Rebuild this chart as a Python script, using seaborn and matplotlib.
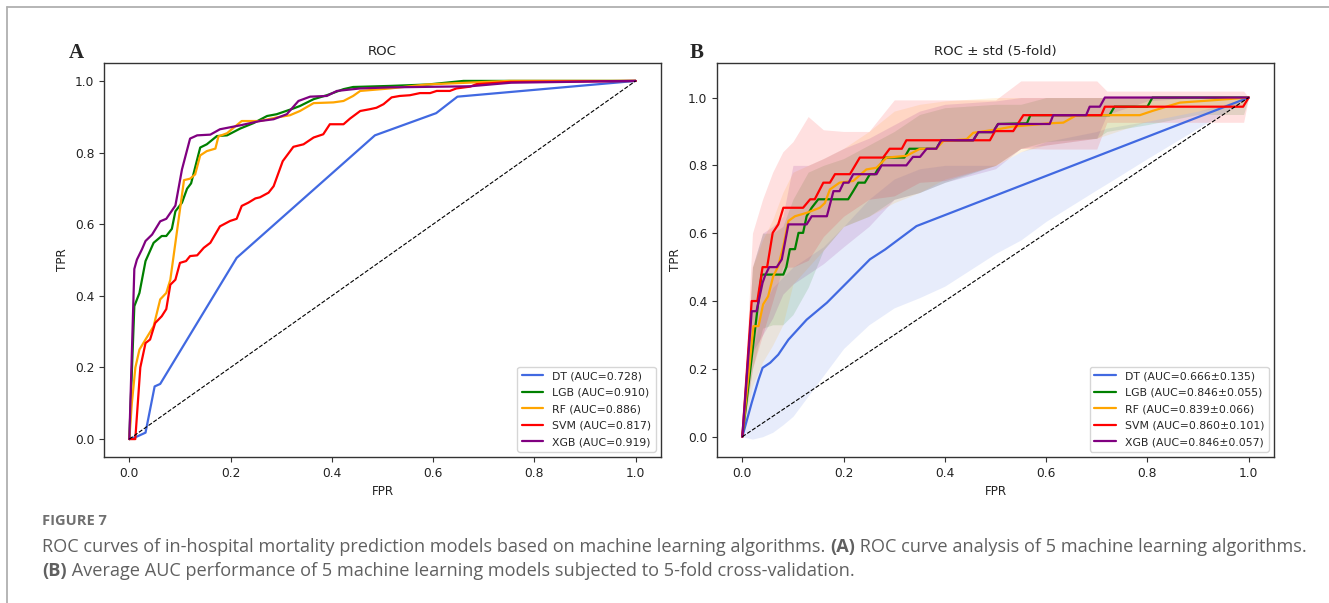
import numpy as np
import pandas as pd
import matplotlib
matplotlib.use("Agg")
import matplotlib.pyplot as plt
from matplotlib.lines import Line2D
import seaborn as sns

# ---------------- data ----------------
models = ["DT", "LGB", "RF", "SVM", "XGB"]
colors = ["royalblue", "green", "orange", "red", "purple"]
auc_a = ["0.728", "0.910", "0.886", "0.817", "0.919"]
auc_b = ["0.666\u00b10.135", "0.846\u00b10.055", "0.839\u00b10.066", "0.860\u00b10.101", "0.846\u00b10.057"]

# Panel A: ROC curves
dt_a_fpr = [0, 0.015, 0.032, 0.05, 0.061, 0.212, 0.485, 0.606, 0.648, 1.0]
dt_a_tpr = [0, 0.007, 0.018, 0.147, 0.154, 0.506, 0.848, 0.91, 0.956, 1.0]
lgb_a_fpr = [0, 0.0099, 0.02, 0.032, 0.048, 0.064, 0.073, 0.084, 0.091, 0.104,
             0.114, 0.122, 0.14, 0.153, 0.173, 0.193, 0.219, 0.245, 0.272, 0.291,
             0.324, 0.337, 0.364, 0.39, 0.423, 0.442, 0.515, 0.59, 0.66, 1.0]
lgb_a_tpr = [0, 0.371, 0.408, 0.497, 0.548, 0.567, 0.567, 0.587, 0.636, 0.66,
             0.699, 0.714, 0.814, 0.823, 0.846, 0.848, 0.867, 0.882, 0.902, 0.907,
             0.923, 0.93, 0.949, 0.96, 0.977, 0.983, 0.986, 0.99, 1.0, 1.0]
rf_a_fpr = [0, 0.005, 0.012, 0.02, 0.032, 0.048, 0.061, 0.073, 0.081, 0.108,
            0.12, 0.13, 0.14, 0.153, 0.17, 0.176, 0.193, 0.222, 0.258, 0.291,
            0.317, 0.337, 0.364, 0.403, 0.423, 0.442, 0.456, 0.515, 0.587, 0.75, 1.0]
rf_a_tpr = [0, 0.1, 0.2, 0.25, 0.278, 0.315, 0.39, 0.408, 0.445, 0.723,
            0.727, 0.739, 0.792, 0.804, 0.811, 0.845, 0.854, 0.888, 0.888, 0.898,
            0.904, 0.916, 0.938, 0.94, 0.944, 0.958, 0.972, 0.979, 0.99, 1.0, 1.0]
svm_a_fpr = [0, 0.0118, 0.0217, 0.032, 0.041, 0.051, 0.064, 0.073, 0.081, 0.091,
             0.1, 0.112, 0.12, 0.134, 0.147, 0.16, 0.179, 0.199, 0.212, 0.222,
             0.235, 0.249, 0.258, 0.275, 0.285, 0.303, 0.324, 0.344, 0.364, 0.383,
             0.396, 0.423, 0.436, 0.456, 0.475, 0.488, 0.502, 0.518, 0.534, 0.554,
             0.574, 0.594, 0.607, 0.633, 0.646, 0.673, 0.686, 0.751, 1.0]
svm_a_tpr = [0, 0, 0.2, 0.268, 0.278, 0.324, 0.343, 0.363, 0.431, 0.445,
             0.492, 0.497, 0.511, 0.513, 0.534, 0.548, 0.594, 0.609, 0.615, 0.651,
             0.66, 0.672, 0.675, 0.688, 0.706, 0.776, 0.816, 0.823, 0.842, 0.851,
             0.879, 0.879, 0.895, 0.916, 0.921, 0.925, 0.935, 0.954, 0.958, 0.96,
             0.966, 0.966, 0.972, 0.972, 0.979, 0.984, 0.991, 0.997, 1.0]
xgb_a_fpr = [0, 0.0099, 0.015, 0.025, 0.032, 0.045, 0.061, 0.073, 0.091, 0.104,
             0.12, 0.134, 0.16, 0.179, 0.219, 0.258, 0.285, 0.311, 0.334, 0.357,
             0.39, 0.41, 0.456, 0.515, 0.673, 0.754, 1.0]
xgb_a_tpr = [0, 0.475, 0.501, 0.53, 0.553, 0.571, 0.608, 0.615, 0.652, 0.753,
             0.839, 0.848, 0.85, 0.865, 0.876, 0.888, 0.893, 0.907, 0.944, 0.956,
             0.958, 0.972, 0.979, 0.982, 0.985, 0.995, 1.0]

# Panel B: mean ROC (5-fold)
dt_b_fpr = [0, 0.0185, 0.032, 0.04, 0.055, 0.071, 0.091, 0.127, 0.167, 0.213, 0.252, 0.282, 0.344, 1.0]
dt_b_tpr = [0, 0.1, 0.168, 0.203, 0.218, 0.242, 0.286, 0.345, 0.395, 0.464, 0.523, 0.552, 0.621, 1.0]
lgb_b_fpr = [0, 0.038, 0.081, 0.087, 0.094, 0.104, 0.111, 0.12, 0.127, 0.137,
             0.15, 0.209, 0.219, 0.229, 0.242, 0.252, 0.262, 0.281, 0.32, 0.33,
             0.383, 0.393, 0.456, 0.466, 0.495, 0.505, 0.562, 0.569, 0.725, 0.735,
             0.80, 0.81, 1.0]
lgb_b_tpr = [0, 0.478, 0.478, 0.5, 0.553, 0.553, 0.601, 0.601, 0.65, 0.675,
             0.7, 0.7, 0.724, 0.749, 0.749, 0.774, 0.774, 0.823, 0.823, 0.849,
             0.849, 0.874, 0.874, 0.898, 0.898, 0.922, 0.924, 0.948, 0.948, 0.973,
             0.973, 1.0, 1.0]
rf_b_fpr = [0, 0.022, 0.032, 0.041, 0.051, 0.061, 0.071, 0.081, 0.091, 0.104,
            0.127, 0.153, 0.163, 0.173, 0.192, 0.219, 0.245, 0.265, 0.285, 0.324,
            0.351, 0.383, 0.397, 0.443, 0.456, 0.503, 0.532, 0.607, 0.634, 0.66,
            0.785, 0.811, 0.864, 0.93, 1.0]
rf_b_tpr = [0, 0.326, 0.326, 0.39, 0.414, 0.473, 0.503, 0.562, 0.636, 0.65,
            0.66, 0.675, 0.689, 0.729, 0.749, 0.754, 0.788, 0.793, 0.823, 0.828,
            0.849, 0.849, 0.872, 0.877, 0.896, 0.906, 0.914, 0.924, 0.926, 0.948,
            0.948, 0.961, 0.985, 0.992, 1.0]
svm_b_fpr = [0, 0.0185, 0.0297, 0.04, 0.049, 0.06, 0.071, 0.081, 0.12, 0.134,
             0.143, 0.16, 0.173, 0.183, 0.2125, 0.232, 0.278, 0.291, 0.315, 0.324,
             0.489, 0.499, 0.535, 0.555, 0.709, 0.716, 0.989, 1.0]
svm_b_tpr = [0, 0.4, 0.4, 0.5, 0.5, 0.601, 0.626, 0.675, 0.675, 0.7,
             0.7, 0.749, 0.749, 0.774, 0.774, 0.823, 0.823, 0.849, 0.849, 0.874,
             0.874, 0.901, 0.901, 0.948, 0.948, 0.973, 0.973, 1.0]
xgb_b_fpr = [0, 0.0185, 0.028, 0.04, 0.045, 0.053, 0.068, 0.078, 0.091, 0.127,
             0.137, 0.167, 0.18, 0.192, 0.2, 0.21, 0.219, 0.265, 0.275, 0.324,
             0.337, 0.351, 0.364, 0.383, 0.393, 0.456, 0.466, 0.495, 0.505, 0.607,
             0.614, 0.679, 0.686, 0.706, 0.716, 1.0]
xgb_b_tpr = [0, 0.37, 0.37, 0.454, 0.475, 0.5, 0.5, 0.523, 0.626, 0.626,
             0.65, 0.65, 0.724, 0.724, 0.749, 0.749, 0.774, 0.774, 0.8, 0.8,
             0.825, 0.825, 0.849, 0.849, 0.874, 0.874, 0.898, 0.898, 0.922, 0.922,
             0.948, 0.948, 0.973, 0.973, 1.0, 1.0]

# Panel B: +/- std bands
band_fpr = [0, 0.02, 0.04, 0.06, 0.08, 0.10, 0.13, 0.16, 0.20, 0.25, 0.30,
            0.35, 0.40, 0.50, 0.55, 0.60, 0.70, 0.72, 0.80, 0.90, 0.99, 1.0]
dt_lo = [0, -0.007, 0.0, 0.013, 0.035, 0.06, 0.12, 0.18, 0.26, 0.33, 0.38,
         0.41, 0.444, 0.54, 0.58, 0.635, 0.728, 0.746, 0.82, 0.91, 0.99, 1.0]
dt_hi = [0, 0.25, 0.38, 0.44, 0.47, 0.5, 0.53, 0.56, 0.62, 0.7, 0.76,
         0.79, 0.8, 0.8, 0.84, 0.87, 0.9, 0.91, 0.93, 0.96, 0.995, 1.0]
lgb_lo = [0, 0.2, 0.32, 0.33, 0.33, 0.36, 0.44, 0.55, 0.62, 0.65, 0.7,
          0.72, 0.75, 0.8, 0.85, 0.87, 0.88, 0.9, 0.92, 0.95, 0.95, 1.0]
lgb_hi = [0, 0.5, 0.6, 0.6, 0.62, 0.7, 0.78, 0.8, 0.82, 0.86, 0.9,
          0.95, 0.97, 0.98, 0.98, 1.0, 1.0, 1.0, 1.0, 1.0, 1.0, 1.0]
rf_lo = [0, 0.15, 0.22, 0.27, 0.33, 0.45, 0.5, 0.55, 0.62, 0.65, 0.69,
         0.72, 0.76, 0.8, 0.84, 0.86, 0.88, 0.89, 0.93, 0.96, 0.98, 1.0]
rf_hi = [0, 0.5, 0.58, 0.64, 0.72, 0.78, 0.8, 0.82, 0.85, 0.9, 0.96,
         0.98, 0.99, 1.0, 1.0, 1.0, 1.0, 1.0, 1.0, 1.0, 1.0, 1.0]
svm_lo = [0, 0.2, 0.3, 0.4, 0.5, 0.5, 0.52, 0.59, 0.65, 0.7, 0.71,
          0.75, 0.755, 0.8, 0.85, 0.848, 0.848, 0.927, 0.927, 0.927, 0.927, 1.0]
svm_hi = [0, 0.6, 0.7, 0.78, 0.84, 0.87, 0.944, 0.905, 0.9, 0.9, 0.993,
          0.993, 0.993, 0.993, 1.049, 1.049, 1.049, 1.019, 1.019, 1.019, 1.019, 1.0]
xgb_lo = [0, 0.25, 0.3, 0.35, 0.42, 0.45, 0.48, 0.51, 0.56, 0.62, 0.7,
          0.72, 0.75, 0.79, 0.85, 0.86, 0.88, 0.95, 0.99, 1.0, 1.0, 1.0]
xgb_hi = [0, 0.5, 0.6, 0.62, 0.65, 0.8, 0.8, 0.82, 0.85, 0.88, 0.92,
          0.96, 0.98, 0.99, 1.0, 1.0, 1.0, 1.0, 1.0, 1.0, 1.0, 1.0]

title_a = "ROC"
title_b = "ROC \u00b1 std (5-fold)"
ticks = [0.0, 0.2, 0.4, 0.6, 0.8, 1.0]
caption_head = "FIGURE 7"
caption_1 = [("ROC curves of in-hospital mortality prediction models based on machine learning algorithms. ", "normal"),
             ("(A)", "bold"), (" ROC curve analysis of 5 machine learning algorithms.", "normal")]
caption_2 = [("(B)", "bold"), (" Average AUC performance of 5 machine learning models subjected to 5-fold cross-validation.", "normal")]

# ---------------- figure ----------------
sns.set_style("white")
plt.rcParams["font.family"] = ["DejaVu Sans"]
plt.rcParams["axes.edgecolor"] = "#333333"
plt.rcParams["axes.linewidth"] = 1.0
plt.rcParams["xtick.bottom"] = True
plt.rcParams["ytick.left"] = True
plt.rcParams["xtick.color"] = "#333333"
plt.rcParams["ytick.color"] = "#333333"
plt.rcParams["xtick.major.size"] = 3.5
plt.rcParams["ytick.major.size"] = 3.5

W, H = 1329, 603
fig = plt.figure(figsize=(W / 100, H / 100), dpi=100)
axA = fig.add_axes([104 / W, 1 - 457 / H, 557 / W, 394 / H])
axB = fig.add_axes([717 / W, 1 - 457 / H, 557 / W, 394 / H])

series_a = [(dt_a_fpr, dt_a_tpr), (lgb_a_fpr, lgb_a_tpr), (rf_a_fpr, rf_a_tpr),
            (svm_a_fpr, svm_a_tpr), (xgb_a_fpr, xgb_a_tpr)]
series_b = [(dt_b_fpr, dt_b_tpr), (lgb_b_fpr, lgb_b_tpr), (rf_b_fpr, rf_b_tpr),
            (svm_b_fpr, svm_b_tpr), (xgb_b_fpr, xgb_b_tpr)]
bands = [(dt_lo, dt_hi), (lgb_lo, lgb_hi), (rf_lo, rf_hi), (svm_lo, svm_hi), (xgb_lo, xgb_hi)]


def long_df(series, aucs):
    frames = []
    for m, (fx, ty), a in zip(models, series, aucs):
        frames.append(pd.DataFrame({"fpr": fx, "tpr": ty, "model": f"{m} (AUC={a})"}))
    return pd.concat(frames, ignore_index=True)


dfa = long_df(series_a, auc_a)
dfb = long_df(series_b, auc_b)

# Panel A
sns.lineplot(data=dfa, x="fpr", y="tpr", hue="model", palette=colors,
             estimator=None, sort=False, linewidth=1.6, ax=axA)
axA.plot([0, 1], [0, 1], "k--", lw=0.8)

# Panel B
for (lo, hi), c in zip(bands, colors):
    axB.fill_between(band_fpr, lo, hi, color=c, alpha=0.12, lw=0)
sns.lineplot(data=dfb, x="fpr", y="tpr", hue="model", palette=colors,
             estimator=None, sort=False, linewidth=1.6, ax=axB)
axB.plot([0, 1], [0, 1], "k--", lw=0.8)

for ax, ttl in [(axA, title_a), (axB, title_b)]:
    ax.set_title(ttl, fontsize=9.6, color="#222222")
    ax.set_xlabel("FPR", fontsize=8.6, color="#222222")
    ax.set_ylabel("TPR", fontsize=8.6, color="#222222")
    ax.set_xticks(ticks)
    ax.set_yticks(ticks)
    ax.tick_params(labelsize=8.8, labelcolor="#222222")
    for s in ax.spines.values():
        s.set_visible(True)
    leg = ax.legend(loc="lower right", fontsize=7.8, frameon=True, fancybox=True,
                    labelspacing=0.6)
    leg.get_frame().set_edgecolor("#cccccc")
    for h in leg.get_lines():
        h.set_linewidth(1.6)

axA.set_xlim(-0.05, 1.05)
axA.set_ylim(-0.05, 1.05)
axB.set_xlim(-0.05, 1.05)

# panel letters
fig.text(76 / W, 1 - 53 / H, "A", fontsize=15, fontweight="bold",
         family="Liberation Serif", ha="center", va="center")
fig.text(697 / W, 1 - 53 / H, "B", fontsize=15, fontweight="bold",
         family="Liberation Serif", ha="center", va="center")

# frame lines of the figure panel
fig.add_artist(Line2D([7 / W, 1], [1 - 7 / H, 1 - 7 / H], color="#b0b0b0", lw=1.3))
fig.add_artist(Line2D([7 / W, 7 / W], [0, 1 - 7 / H], color="#b0b0b0", lw=1.3))

cap_font = "Open Sans"
fig.text(42 / W, 1 - 521 / H, caption_head, fontsize=10.5, fontweight="bold",
         color="#707070", family=cap_font, va="center")

fig.canvas.draw()
renderer = fig.canvas.get_renderer()


def place(parts, y, size, draw=True):
    x = 42.0
    made = []
    for txt, wt in parts:
        t = fig.text(x / W, 1 - y / H, txt, fontsize=size, fontweight=wt,
                     color="#606060", family=cap_font, va="center")
        bb = t.get_window_extent(renderer)
        x += bb.width
        made.append(t)
    if not draw:
        for t in made:
            t.remove()
    return x - 42.0


w1 = place(caption_1, 547, 12, draw=False)
size = 12 * 1262.0 / w1
place(caption_1, 547, size)
place(caption_2, 571, size)

fig.savefig("out.png", dpi=100)
